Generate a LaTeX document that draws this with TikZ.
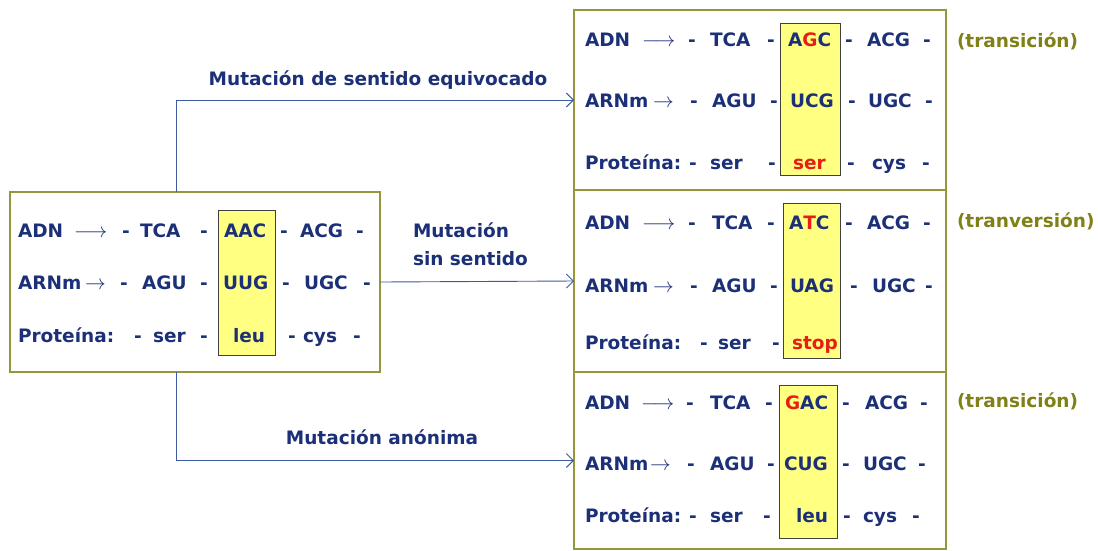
\documentclass[tikz,border=0pt]{standalone}
\usepackage{fontspec}
\setmainfont{DejaVu Sans}
\usetikzlibrary{arrows.meta}
\definecolor{navy}{RGB}{28,48,120}
\definecolor{olivelab}{RGB}{128,128,24}
\definecolor{boxline}{RGB}{150,150,60}
\definecolor{hl}{RGB}{255,255,130}
\definecolor{conn}{RGB}{60,90,160}
\definecolor{redt}{RGB}{230,30,20}
\tikzset{
  tok/.style={anchor=base west, inner sep=0pt, outer sep=0pt, text=navy,
    font=\bfseries\fontsize{18.5}{22}\selectfont},
  lab/.style={tok, text=olivelab},
  mlab/.style={tok},
  outerbox/.style={draw=boxline, line width=1.6pt, fill=white, anchor=north west,
    inner sep=0pt, outer sep=0pt},
  hlbox/.style={draw=black!75, line width=0.9pt, fill=hl, anchor=north west,
    inner sep=0pt, outer sep=0pt},
  connline/.style={draw=conn, line width=0.9pt, -{Straight Barb[length=7pt,width=14pt]}},
}
\newcommand{\rd}[1]{\textcolor{redt}{#1}}
\newcommand{\LA}{{\fontsize{22}{22}\selectfont$\longrightarrow$}}
\newcommand{\SA}{{\fontsize{22}{22}\selectfont$\rightarrow$}}
\begin{document}
\begin{tikzpicture}[x=1pt,y=-1pt]
\useasboundingbox (0,0) rectangle (1098,550);
% outer boxes
\node[outerbox, minimum width=370pt, minimum height=180pt] (L) at (10,192) {};
\node[outerbox, minimum width=372pt, minimum height=180pt] (T) at (574,10) {};
\node[outerbox, minimum width=372pt, minimum height=182pt] (M) at (574,190) {};
\node[outerbox, minimum width=372pt, minimum height=177pt] (B) at (574,372) {};
% highlight boxes
\node[hlbox, minimum width=57pt, minimum height=145pt] (Lh) at (218,210) {};
\node[hlbox, minimum width=60pt, minimum height=152pt] (Th) at (780,23) {};
\node[hlbox, minimum width=57pt, minimum height=155pt] (Mh) at (783,203) {};
\node[hlbox, minimum width=58pt, minimum height=153pt] (Bh) at (779,385) {};
% left box rows
\foreach \x/\t [count=\i] in {18/ADN, 74/\LA, 122/-, 140/TCA, 200/-, 224/AAC, 280/-, 300/ACG, 356/-}
  \node[tok] (L1-\i) at (\x,237) {\t};
\foreach \x/\t [count=\i] in {18/ARNm, 85/\SA, 120/-, 142/AGU, 200/-, 223/UUG, 282/-, 304/UGC, 363/-}
  \node[tok] (L2-\i) at (\x,289) {\t};
\foreach \x/\t [count=\i] in {18/{Proteína:}, 134/-, 153/ser, 200/-, 233/leu, 288/-, 303/cys, 353/-}
  \node[tok] (L3-\i) at (\x,342) {\t};
% top right box
\foreach \x/\t [count=\i] in {585/ADN, 642/\LA, 688/-, 710/TCA, 767/-, 788/{A\rd{G}C}, 845/-, 867/ACG, 923/-}
  \node[tok] (T1-\i) at (\x,46) {\t};
\foreach \x/\t [count=\i] in {585/ARNm, 653/\SA, 690/-, 712/AGU, 770/-, 790/UCG, 848/-, 868/UGC, 925/-}
  \node[tok] (T2-\i) at (\x,107) {\t};
\foreach \x/\t [count=\i] in {585/{Proteína:}, 689/-, 710/ser, 768/-, 793/{\rd{ser}}, 847/-, 872/cys, 922/-}
  \node[tok] (T3-\i) at (\x,169) {\t};
% middle right box
\foreach \x/\t [count=\i] in {585/ADN, 642/\LA, 688/-, 712/TCA, 767/-, 789/{A\rd{T}C}, 845/-, 867/ACG, 923/-}
  \node[tok] (M1-\i) at (\x,229) {\t};
\foreach \x/\t [count=\i] in {585/ARNm, 653/\SA, 690/-, 712/AGU, 770/-, 790/UAG, 850/-, 872/UGC, 925/-}
  \node[tok] (M2-\i) at (\x,292) {\t};
\foreach \x/\t [count=\i] in {585/{Proteína:}, 700/-, 718/ser, 772/-, 792/{\rd{stop}}}
  \node[tok] (M3-\i) at (\x,349) {\t};
% bottom right box
\foreach \x/\t [count=\i] in {585/ADN, 641/\LA, 686/-, 710/TCA, 765/-, 785/{\rd{G}AC}, 842/-, 865/ACG, 920/-}
  \node[tok] (B1-\i) at (\x,409) {\t};
\foreach \x/\t [count=\i] in {585/ARNm, 650/\SA, 687/-, 710/AGU, 767/-, 784/CUG, 842/-, 863/UGC, 918/-}
  \node[tok] (B2-\i) at (\x,470) {\t};
\foreach \x/\t [count=\i] in {585/{Proteína:}, 689/-, 710/ser, 763/-, 796/leu, 843/-, 863/cys, 912/-}
  \node[tok] (B3-\i) at (\x,522) {\t};
% side labels
\node[lab] (lt) at (957,47) {(transición)};
\node[lab] (lm) at (957,227) {(tranversión)};
\node[lab] (lb) at (957,407) {(transición)};
% connectors
\coordinate (j) at (176,102);
\draw[connline] (L.north -| j) |- (T.west);
\draw[connline] (L.east) -- (M.west);
\draw[connline] (L.south -| j) |- (B.west);
% connector labels
\node[mlab, anchor=base] (c1) at (378,85) {Mutación de sentido equivocado};
\node[mlab] (c2) at (413,237) {Mutación};
\node[mlab] (c3) at (413,265) {sin sentido};
\node[mlab, anchor=base] (c4) at (382,444) {Mutación anónima};
\end{tikzpicture}
\end{document}
